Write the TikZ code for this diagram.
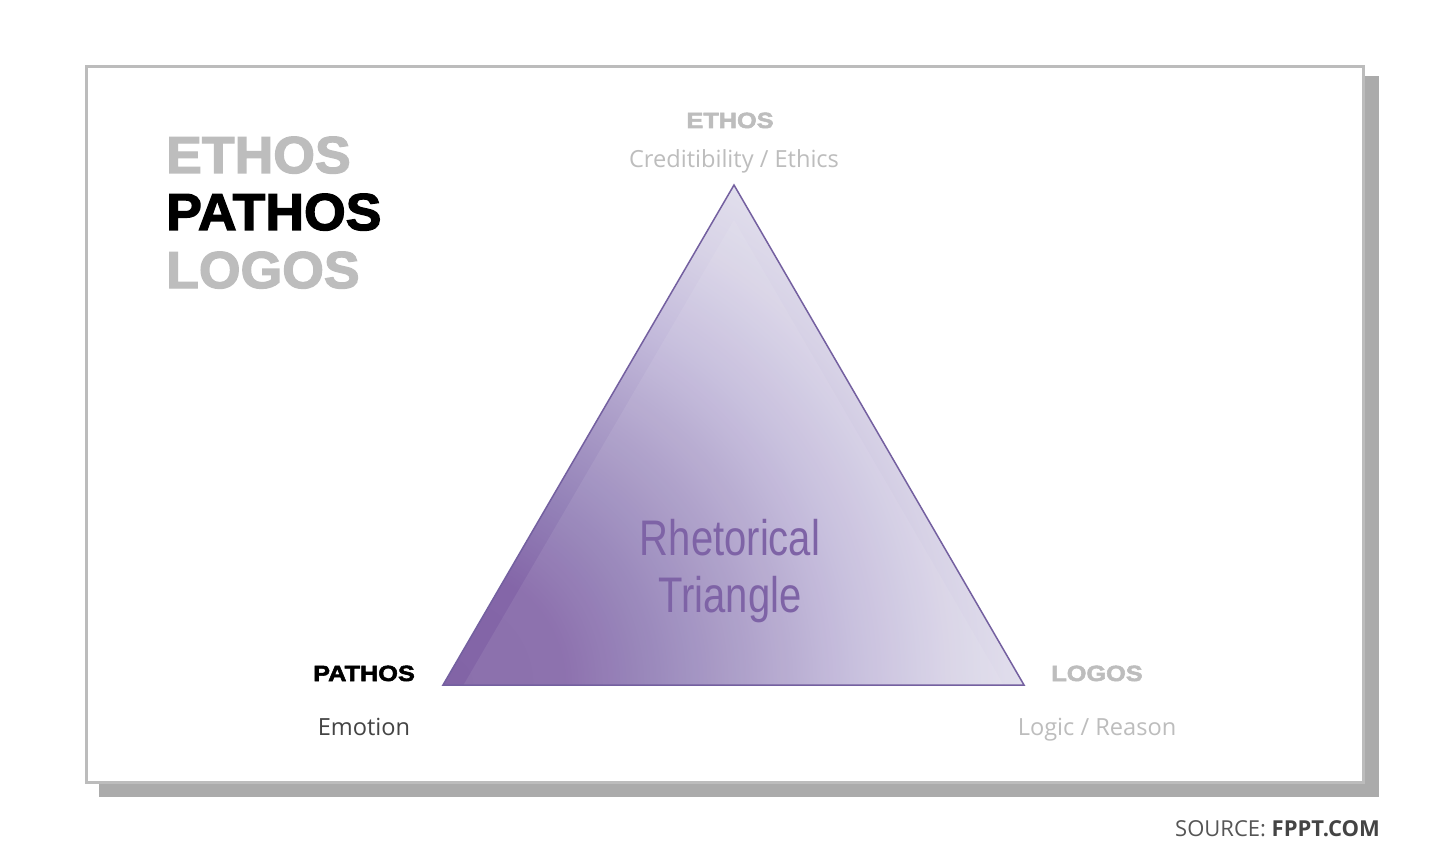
\documentclass[tikz,border=0pt]{standalone}
\usepackage{fontspec}
\setmainfont{Open Sans}
\newfontfamily\blackfont[FakeBold=2.5,FakeStretch=1.03]{Liberation Sans Bold}
\newfontfamily\blackwide[FakeBold=2.5,FakeStretch=1.15]{Liberation Sans Bold}
\newfontfamily\narrowfont[FakeStretch=0.8]{Liberation Sans}
\newfontfamily\opensans{Open Sans}
\definecolor{framegray}{HTML}{BCBCBC}
\definecolor{shadowgray}{HTML}{ABABAB}
\definecolor{lightgray}{HTML}{BDBDBD}
\definecolor{darktext}{HTML}{444444}
\definecolor{srctext}{HTML}{555555}
\definecolor{pc0}{HTML}{8264A6}
\definecolor{pc1}{HTML}{8466A8}
\definecolor{pc2}{HTML}{9482B8}
\definecolor{pc3}{HTML}{AB9DC8}
\definecolor{pc4}{HTML}{C3BADB}
\definecolor{pc5}{HTML}{D7D2E6}
\definecolor{pc6}{HTML}{E4E2EE}
\definecolor{pstroke}{HTML}{7460A0}
\definecolor{ptext}{HTML}{7E63A6}
\pgfdeclareradialshading{blrad}{\pgfpoint{0bp}{0bp}}{color(0bp)=(pc0); color(5bp)=(pc1); color(9bp)=(pc2); color(13bp)=(pc3); color(17bp)=(pc4); color(21bp)=(pc5); color(25bp)=(pc6); color(50bp)=(pc6)}
\tikzset{
  biglabel/.style={anchor=base west, inner sep=0pt, font=\blackfont\fontsize{52}{52}\selectfont},
  cornerlabel/.style={anchor=base, inner sep=0pt, font=\blackwide\fontsize{22}{22}\selectfont},
  sublabel/.style={anchor=base, inner sep=0pt, font=\opensans\fontsize{23.6}{24}\selectfont},
  titlelabel/.style={anchor=base, inner sep=0pt, text=ptext, font=\narrowfont\fontsize{50}{50}\selectfont}
}
\begin{document}
\begin{tikzpicture}[x=1pt,y=-1pt]
\useasboundingbox (0,0) rectangle (1450,850);
% shadow and frame
\fill[shadowgray] (99,76) rectangle (1379,797);
\draw[framegray, line width=3pt, fill=white] (86.5,66.5) rectangle (1363.5,782.5);
% triangle
\coordinate (apex) at (734,185);
\coordinate (bl) at (443,685);
\coordinate (br) at (1024,685);
\coordinate (iapex) at (734,220);
\coordinate (ibl) at (463.5,685);
\coordinate (ibr) at (1003.5,685);
\begin{scope}
  \clip (apex) -- (bl) -- (br) -- cycle;
  \shade[shading=blrad] (bl) circle[radius=600];
\end{scope}
\fill[white, opacity=0.08] (iapex) -- (ibl) -- (ibr) -- cycle;
\draw[pstroke, line width=1.5pt, line join=miter] (apex) -- (bl) -- (br) -- cycle;
% title list
\node[biglabel, text=lightgray] (t1) at (166,173) {ETHOS};
\node[biglabel, text=black] (t2) at (166,230) {PATHOS};
\node[biglabel, text=lightgray] (t3) at (166,288) {LOGOS};
% corner labels
\node[cornerlabel, text=lightgray] (ethos) at (730,128) {ETHOS};
\node[sublabel, text=lightgray] (ethossub) at (734,168) {Creditibility / Ethics};
\node[cornerlabel, text=black] (pathos) at (364,681) {PATHOS};
\node[sublabel, text=darktext] (pathossub) at (364,735) {Emotion};
\node[cornerlabel, text=lightgray] (logos) at (1097,681) {LOGOS};
\node[sublabel, text=lightgray] (logossub) at (1097,735) {Logic / Reason};
% center text
\node[titlelabel] (rt1) at (730,555) {Rhetorical};
\node[titlelabel] (rt2) at (730,612) {Triangle};
% source
\node[anchor=base east, inner sep=0pt, font=\opensans\fontsize{22}{22}\selectfont] (src) at (1380,836) {\textcolor{srctext}{SOURCE:} \textcolor{darktext}{\bfseries FPPT.COM}};
\end{tikzpicture}
\end{document}
